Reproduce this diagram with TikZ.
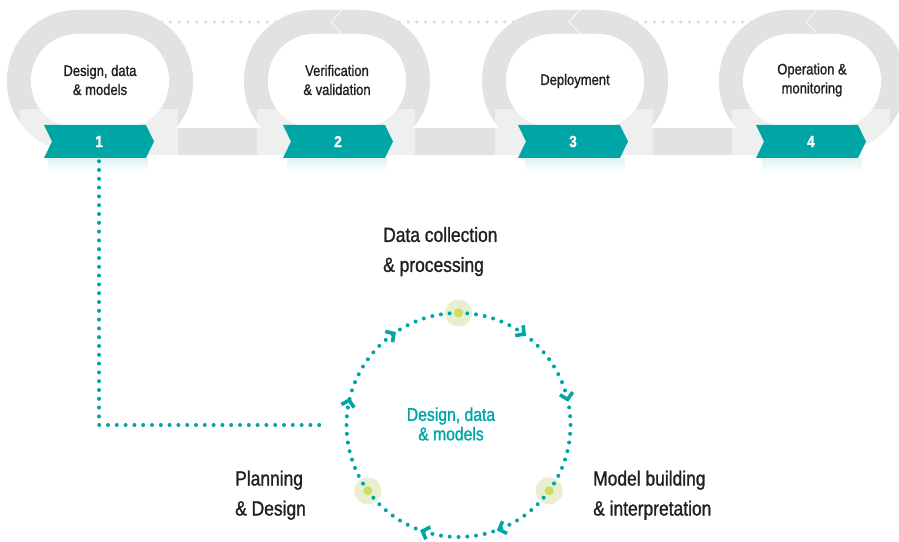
\documentclass[tikz,border=0pt]{standalone}
\usepackage{fontspec}
\usepackage{xcolor}
\usepackage{tikz}
\usetikzlibrary{shapes.symbols, arrows.meta, decorations.markings, fadings}

\newfontfamily\condfont[FakeStretch=0.85, FakeBold=1.2]{Liberation Sans}

\definecolor{tagteal}{RGB}{0,166,166}
\definecolor{ringgray}{RGB}{225,227,227}
\definecolor{dotgray}{RGB}{216,218,218}
\definecolor{halogreen}{RGB}{231,239,206}
\definecolor{dotgreen}{RGB}{202,221,96}
\definecolor{inktext}{RGB}{35,31,32}

\tikzset{
    stagetext/.style={align=center, text=inktext, inner sep=0pt,
        font=\condfont\fontsize{15.3}{19}\selectfont},
    tagbox/.style={shape=signal, signal from=west, signal to=east,
        signal pointer angle=128, fill=tagteal, text=white,
        minimum width=110pt, minimum height=33pt, inner sep=0pt,
        font=\condfont\bfseries\fontsize{16}{18}\selectfont},
    steplabel/.style={align=left, text=inktext, inner sep=0pt, anchor=west,
        font=\condfont\fontsize{20.5}{30}\selectfont},
    coretext/.style={align=center, text=tagteal, inner sep=0pt,
        font=\condfont\fontsize{18.5}{19.5}\selectfont},
    tealdots/.style={draw=tagteal, line width=4pt, line cap=round,
        dash pattern=on 0pt off 8.8pt},
    halo/.style={circle, fill=halogreen, minimum size=27pt, inner sep=0pt},
}
\newcommand{\cyclearrow}{\arrow[tagteal]{Straight Barb[length=6pt,width=13pt,line width=3.6pt]}}

\begin{document}
\begin{tikzpicture}[x=1pt, y=1pt]

    \useasboundingbox (0,0) rectangle (899,541);
    \clip (0,0) rectangle (899,541);

    % Top dotted guide
    \draw[dotgray, line width=3.5pt, line cap=round, dash pattern=on 0pt off 8.8pt]
        (100,519) -- (812,519);

    % Grey loops
    \fill[ringgray, rounded corners=70pt] (7,389) rectangle (193,531);
    \fill[ringgray, rounded corners=70pt] (244,389) rectangle (430,531);
    \fill[ringgray, rounded corners=70pt] (482,389) rectangle (668,531);
    \fill[ringgray, rounded corners=70pt] (719,389) rectangle (905,531);

    % Band between loops
    \fill[ringgray] (100,386) rectangle (812,413);

    % Light panels behind the tags
    \fill[white, opacity=.45] (20,386) rectangle (178,432);
    \fill[white, opacity=.45] (257,386) rectangle (415,432);
    \fill[white, opacity=.45] (495,386) rectangle (653,432);
    \fill[white, opacity=.45] (732,386) rectangle (890,432);

    % White centres
    \fill[white, rounded corners=46pt] (31,413) rectangle (169,507);
    \fill[white, rounded corners=46pt] (268,413) rectangle (406,507);
    \fill[white, rounded corners=46pt] (506,413) rectangle (644,507);
    \fill[white, rounded corners=46pt] (743,413) rectangle (881,507);

    % Notches on top of the loops
    \draw[white, opacity=.7, line width=1pt] (342,531) -- (331,519) -- (342,507);
    \draw[white, opacity=.7, line width=1pt] (580,531) -- (569,519) -- (580,507);
    \draw[white, opacity=.7, line width=1pt] (817,531) -- (806,519) -- (817,507);

    % Stage names
    \node[stagetext] (stage1) at (100,461) {Design, data\\\& models};
    \node[stagetext] (stage2) at (337,461) {Verification\\\& validation};
    \node[stagetext] (stage3) at (575,460) {Deployment};
    \node[stagetext] (stage4) at (812,461) {Operation \&\\monitoring};

    % Soft glow under the tags
    \fill[tagteal, opacity=.12, path fading=south] (48,383) rectangle (148,369);
    \fill[tagteal, opacity=.12, path fading=south] (287,383) rectangle (387,369);
    \fill[tagteal, opacity=.12, path fading=south] (525,383) rectangle (625,369);
    \fill[tagteal, opacity=.12, path fading=south] (762,383) rectangle (862,369);

    % Number tags
    \node[tagbox] (tag1) at (99,399.5) {1};
    \node[tagbox] (tag2) at (338,399.5) {2};
    \node[tagbox] (tag3) at (573,399.5) {3};
    \node[tagbox] (tag4) at (811,399.5) {4};

    % Link from stage 1 down to the cycle
    \coordinate (cycin) at (320,116);
    \draw[tealdots] ([yshift=-3pt]tag1.south) |- (cycin);

    % Cycle points
    \node[halo] (ptop) at (458.5,228) {};
    \node[halo] (pleft) at (367.9,50.2) {};
    \node[halo] (pright) at (549.1,50.2) {};

    % Dotted cycle with arrows
    \draw[tealdots, dash pattern=on 0pt off 8.796pt,
        postaction={decorate},
        decoration={markings,
            mark=at position 0.1028 with {\cyclearrow},
            mark=at position 0.2167 with {\cyclearrow},
            mark=at position 0.4444 with {\cyclearrow},
            mark=at position 0.5556 with {\cyclearrow},
            mark=at position 0.7890 with {\cyclearrow},
            mark=at position 0.9056 with {\cyclearrow}}]
        (ptop.center) arc[start angle=90, end angle=-270, radius=112];

    \fill[dotgreen] (ptop) circle (4.5);
    \fill[dotgreen] (pleft) circle (4.5);
    \fill[dotgreen] (pright) circle (4.5);

    % Labels
    \node[coretext] (core) at (451,117) {Design, data\\\& models};
    \node[steplabel] (collect) at (383,289.4) {Data collection\\\& processing};
    \node[steplabel] (plan) at (235,45.8) {Planning\\\& Design};
    \node[steplabel] (model) at (593,45.8) {Model building\\\& interpretation};

\end{tikzpicture}
\end{document}
